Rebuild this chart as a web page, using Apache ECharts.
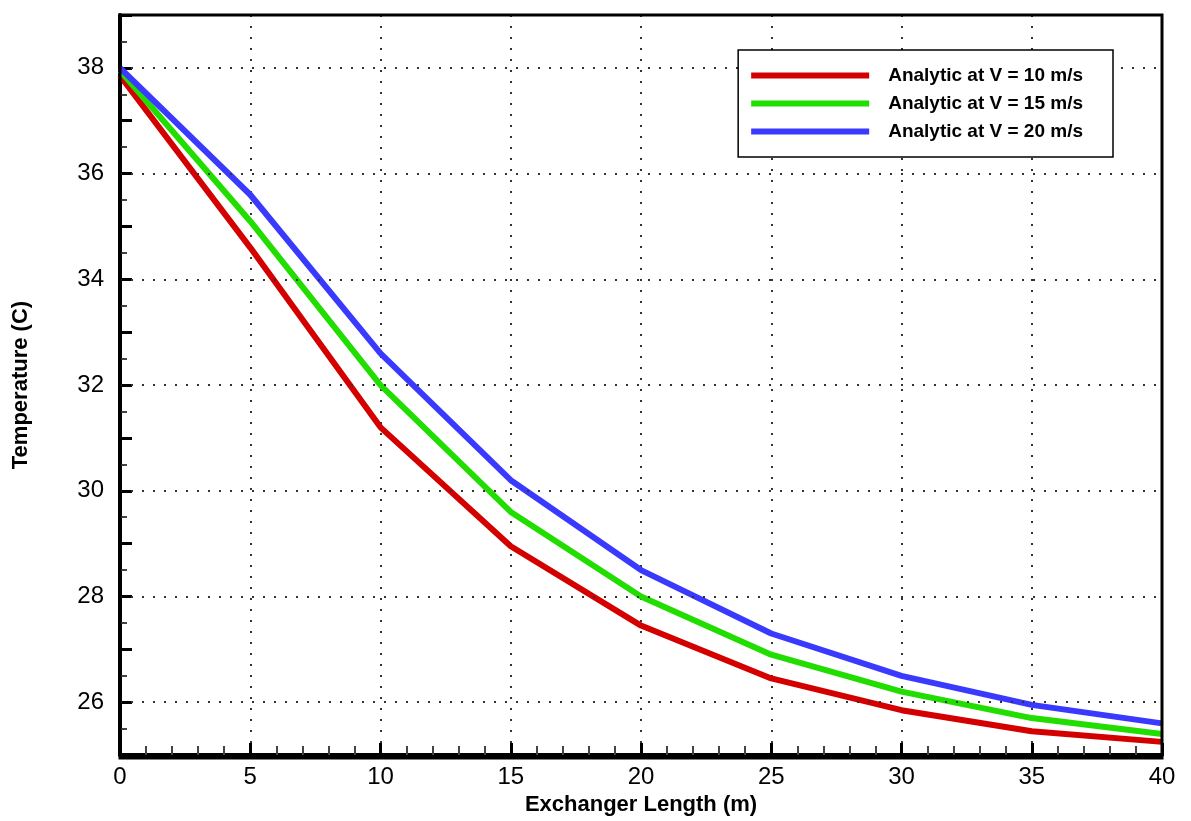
<!DOCTYPE html><html><head><meta charset="utf-8"><script src="https://cdn.jsdelivr.net/npm/echarts@6/dist/echarts.min.js"></script></head><body style="margin:0;background:#fff"><div id="c" style="width:1191px;height:821px"></div><script>
const xs=[0,5,10,15,20,25,30,35,40];
const red=[37.85,34.6,31.2,28.95,27.45,26.45,25.85,25.45,25.25];
const green=[37.95,35.1,32.0,29.6,28.0,26.9,26.2,25.7,25.4];
const blue=[38.0,35.6,32.6,30.2,28.5,27.3,26.5,25.95,25.6];
const yGrid=[26,28,30,32,34,36,38];
const names=['Analytic at V = 10 m/s','Analytic at V = 15 m/s','Analytic at V = 20 m/s'];
const cols=['#d40000','#22dd00','#3a3aff'];
const ch=echarts.init(document.getElementById('c'));
const ax={fontFamily:'Liberation Sans',fontSize:24,color:'#000'};
const ser=[red,green,blue].map((d,i)=>({name:names[i],type:'line',data:d.map((v,j)=>[xs[j],v]),symbol:'none',lineStyle:{width:6,color:cols[i]},itemStyle:{color:cols[i]},z:3}));
ser.push({type:'line',data:[],markLine:{symbol:'none',silent:true,label:{show:false},lineStyle:{type:[2,9],color:'#333',width:2},data:yGrid.map(v=>({yAxis:v}))},z:1});
ch.setOption({animation:false,
grid:{left:120,right:29,top:15,bottom:63},
legend:{data:names,top:50,right:78,z:20,orient:'vertical',itemWidth:118,itemHeight:6,itemGap:9,padding:[16,30,16,13],borderColor:'#000',borderWidth:1.5,backgroundColor:'#fff',textStyle:{fontFamily:'Liberation Sans',fontWeight:'bold',fontSize:19,color:'#000',padding:[0,0,0,14]},icon:'rect'},
xAxis:{type:'value',min:0,max:40,interval:5,name:'Exchanger Length (m)',nameLocation:'middle',nameGap:33,nameTextStyle:{fontFamily:'Liberation Sans',fontWeight:'bold',fontSize:22,color:'#000'},
 axisLine:{lineStyle:{color:'#000',width:4}},axisTick:{inside:true,length:12,lineStyle:{color:'#000',width:3}},minorTick:{show:true,splitNumber:5,length:9,lineStyle:{color:'#444',width:2}},
 axisLabel:{...ax,margin:10},splitLine:{show:true,lineStyle:{type:[2,9],color:'#333',width:2}}},
yAxis:{type:'value',min:25,max:39,interval:1,name:'Temperature (C)',nameLocation:'middle',nameGap:88,nameTextStyle:{fontFamily:'Liberation Sans',fontWeight:'bold',fontSize:22,color:'#000'},
 axisLine:{lineStyle:{color:'#000',width:4}},axisTick:{inside:true,length:12,lineStyle:{color:'#000',width:3}},minorTick:{show:true,splitNumber:2,length:7,lineStyle:{color:'#444',width:2}},
 axisLabel:{...ax,margin:16,formatter:v=>v%2===0&&v>25&&v<39?String(v):''},splitLine:{show:false}},
series:ser});
ch.setOption({graphic:[{type:'rect',shape:{x:120,y:15,width:1042,height:743},style:{fill:'none',stroke:'#000',lineWidth:3},z:10}]});
</script></body></html>
